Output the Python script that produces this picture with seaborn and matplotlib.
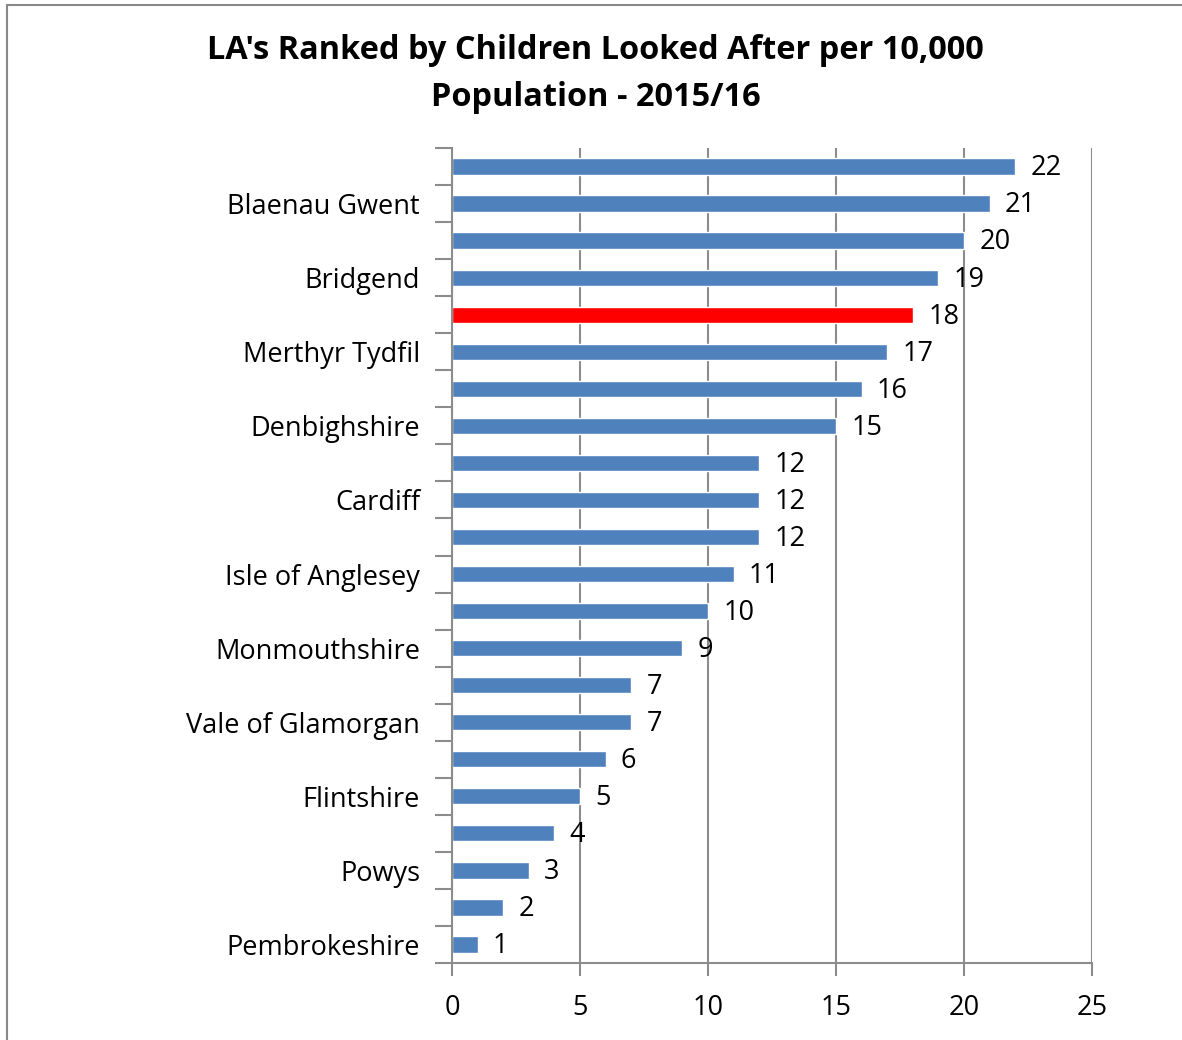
import matplotlib
matplotlib.use("Agg")
import matplotlib.pyplot as plt
import seaborn as sns
import pandas as pd
from matplotlib.lines import Line2D

categories = ["Neath Port Talbot", "Blaenau Gwent", "Torfaen", "Bridgend", "Swansea",
              "Merthyr Tydfil", "Rhondda Cynon Taf", "Denbighshire", "Newport", "Cardiff",
              "Wrexham", "Isle of Anglesey", "Conwy", "Monmouthshire", "Carmarthenshire",
              "Vale of Glamorgan", "Caerphilly", "Flintshire", "Gwynedd", "Powys",
              "Ceredigion", "Pembrokeshire"]
values = [22, 21, 20, 19, 18, 17, 16, 15, 12, 12, 12, 11, 10, 9, 7, 7, 6, 5, 4, 3, 2, 1]
highlight = "Swansea"
title = "LA's Ranked by Children Looked After per 10,000\nPopulation - 2015/16"
xticks = [0, 5, 10, 15, 20, 25]

sns.set_theme(style="white")
plt.rcParams['font.family'] = ['Open Sans', 'DejaVu Sans']
plt.rcParams['text.color'] = 'black'
plt.rcParams['xtick.color'] = 'black'
plt.rcParams['ytick.color'] = 'black'

df = pd.DataFrame({"LA": categories, "Rank": values})
colors = ["#FF0000" if c == highlight else "#4F81BD" for c in categories]

fig = plt.figure(figsize=(11.82, 10.4), dpi=100)
ax = fig.add_axes([452/1182, 1-963/1040, 640/1182, 815/1040])
sns.barplot(data=df, x="Rank", y="LA", hue="LA", palette=colors, legend=False,
            orient="h", width=0.44, saturation=1, ax=ax)

grid_c = "#8C8C8C"
fs = 19.5
ax.set_xlim(0, 25)
ax.set_ylim(len(categories) - 0.5, -0.5)
ax.set_xticks(xticks)
ax.set_xticklabels([str(t) for t in xticks], fontsize=fs, color="black")
ax.xaxis.grid(True, color=grid_c, linewidth=1.5)
ax.set_axisbelow(True)
ax.set_xlabel("")
ax.set_ylabel("")

# category labels: every other one
ax.set_yticks(range(len(categories)))
ax.set_yticklabels([c if i % 2 == 1 else "" for i, c in enumerate(categories)], fontsize=fs, color="black")
ax.tick_params(axis="y", length=0, pad=23)
ax.set_yticks([i - 0.5 for i in range(len(categories) + 1)], minor=True)
ax.tick_params(axis="y", which="minor", length=12, width=1.5, color=grid_c, left=True)
ax.tick_params(axis="x", length=9, width=1.5, color=grid_c, labelcolor="black", bottom=True, pad=13)

for s in ["top", "right"]:
    ax.spines[s].set_visible(False)
for s in ["left", "bottom"]:
    ax.spines[s].set_color(grid_c)
    ax.spines[s].set_linewidth(1.5)

for i, v in enumerate(values):
    ax.text(v + 0.6, i + 0.05, str(v), va="center", ha="left", fontsize=fs, color="black")

fig.suptitle(title, x=0.504, y=1 - 34/1040, va="top", fontsize=23.4, fontweight="bold",
             linespacing=1.58, color="black")

# outer chart border
fig.add_artist(Line2D([7/1182, 7/1182], [0, 1-5/1040], transform=fig.transFigure, color="#888888", linewidth=1.5))
fig.add_artist(Line2D([7/1182, 1], [1-5/1040, 1-5/1040], transform=fig.transFigure, color="#888888", linewidth=1.5))

fig.savefig("out.png", dpi=100)
